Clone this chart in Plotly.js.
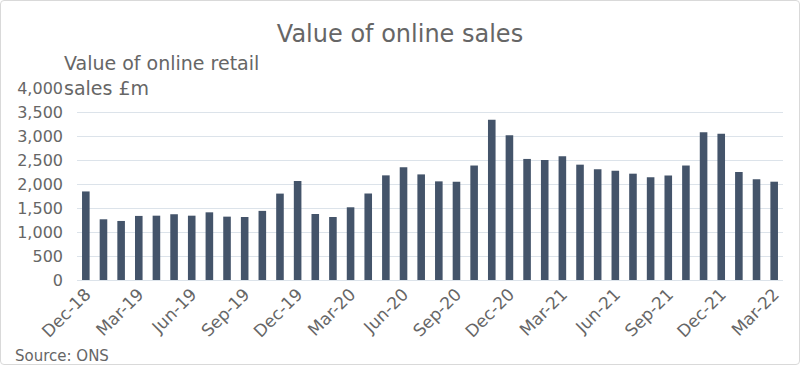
<!DOCTYPE html>
<html>
<head>
<meta charset="utf-8">
<script src="https://cdn.plot.ly/plotly-3.0.1.min.js"></script>
<style>
html,body{margin:0;padding:0;background:#fff;}
#wrap{position:relative;width:800px;height:365px;}
#chart{width:800px;height:365px;}
#frame{position:absolute;left:0;top:0;width:798px;height:363px;border:1px solid #d9d9d9;border-radius:4px;pointer-events:none;}
</style>
</head>
<body>
<div id="wrap"><div id="chart"></div><div id="frame"></div></div>
<script>
const months = ["Dec-18","Jan-19","Feb-19","Mar-19","Apr-19","May-19","Jun-19","Jul-19","Aug-19","Sep-19","Oct-19","Nov-19",
"Dec-19","Jan-20","Feb-20","Mar-20","Apr-20","May-20","Jun-20","Jul-20","Aug-20","Sep-20","Oct-20","Nov-20",
"Dec-20","Jan-21","Feb-21","Mar-21","Apr-21","May-21","Jun-21","Jul-21","Aug-21","Sep-21","Oct-21","Nov-21",
"Dec-21","Jan-22","Feb-22","Mar-22"];
const salesValue = [1845,1265,1230,1335,1340,1370,1340,1410,1320,1312,1440,1800,
2065,1375,1312,1515,1800,2180,2348,2200,2055,2048,2385,3340,
3015,2522,2500,2576,2403,2305,2278,2215,2140,2175,2385,3078,
3048,2250,2097,2048];
const tickLabels = ["Dec-18","Mar-19","Jun-19","Sep-19","Dec-19","Mar-20","Jun-20","Sep-20","Dec-20","Mar-21","Jun-21","Sep-21","Dec-21","Mar-22"];
const yTicks = [0,500,1000,1500,2000,2500,3000,3500,4000];

const font = "DejaVu Sans, Verdana, sans-serif";
const grey = "#666666";

Plotly.newPlot("chart", [{
  type: "bar",
  x: months,
  y: salesValue,
  marker: {color: "#44546a", line: {color: "#44546a", width: 0}},
  hoverinfo: "x+y"
}], {
  width: 800, height: 365,
  margin: {l: 77, r: 17, t: 88, b: 85},
  paper_bgcolor: "#fff", plot_bgcolor: "#fff",
  bargap: 0.57,
  showlegend: false,
  title: {text: "Value of online sales", x: 0.5, xanchor: "center", y: 0.908, yanchor: "middle",
          font: {family: font, size: 24, color: grey}},
  xaxis: {
    type: "category",
    tickmode: "array", tickvals: tickLabels, ticktext: tickLabels,
    tickangle: -45, ticks: "", showgrid: false, showline: false, zeroline: false,
    tickfont: {family: font, size: 17, color: grey}
  },
  yaxis: {
    range: [0, 4000], tickmode: "array", tickvals: yTicks,
    tickformat: ",d", showgrid: true, gridcolor: "#dce3ea", gridwidth: 1,
    zeroline: true, zerolinecolor: "#dce3ea", showline: false, ticks: "",
    ticklabelstandoff: 13,
    tickfont: {family: font, size: 16, color: grey}
  },
  annotations: [
    {text: "Value of online retail<br>sales £m", xref: "paper", yref: "paper",
     x: -0.021, y: 1.2, xanchor: "left", yanchor: "top", align: "left", showarrow: false,
     font: {family: font, size: 19, color: grey}},
    {text: "Source: ONS", xref: "paper", yref: "paper",
     x: -0.09, y: -0.396, xanchor: "left", yanchor: "middle", align: "left", showarrow: false,
     font: {family: font, size: 15, color: grey}}
  ]
}, {displayModeBar: false, staticPlot: true});
</script>
</body>
</html>
